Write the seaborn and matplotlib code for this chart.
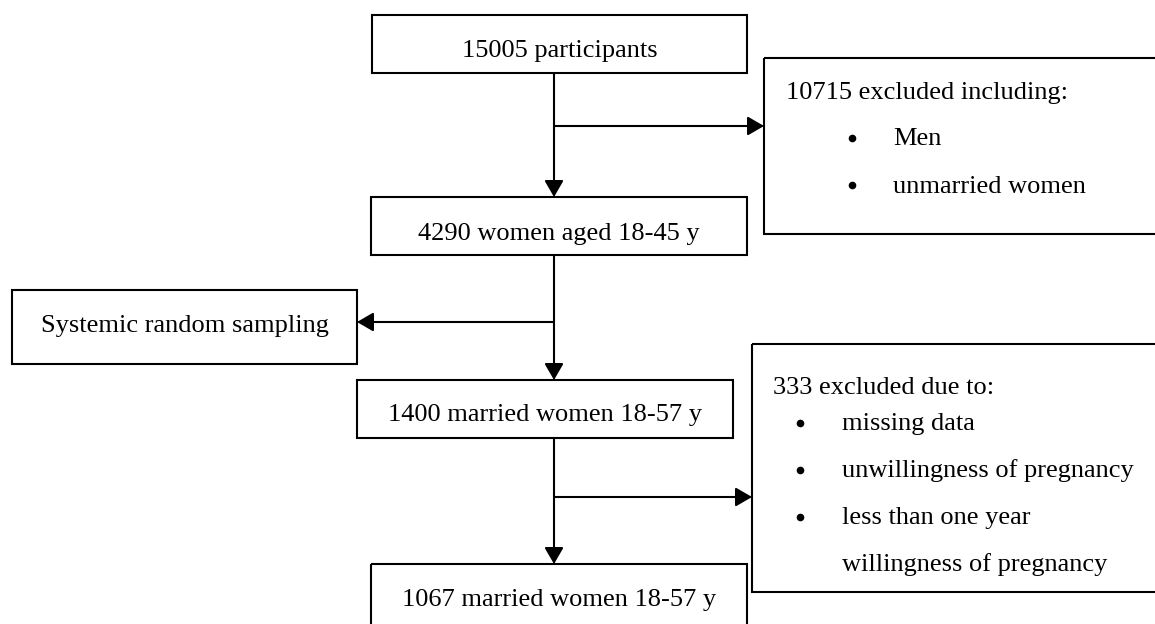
import matplotlib
matplotlib.use("Agg")
import matplotlib.pyplot as plt
import seaborn as sns
from matplotlib.patches import Rectangle

# Flow chart content
main_steps = ["15005 participants", "4290 women aged 18-45 y",
              "1400 married women 18-57 y", "1067 married women 18-57 y"]
side_step = "Systemic random sampling"
excl1_title = "10715 excluded including:"
excl1_items = ["Men", "unmarried women"]
excl2_title = "333 excluded due to:"
excl2_items = ["missing data", "unwillingness of pregnancy", "less than one year"]
excl2_cont = "willingness of pregnancy"

# Layout (pixels, y downward)
main_boxes = [(372, 15, 747, 73), (371, 197, 747, 255),
              (357, 380, 733, 438), (371, 564, 747, 650)]
main_baselines = [57, 240, 421, 606]
side_box = (12, 290, 357, 364)
side_baseline = 332
excl_boxes = [(764, 58, 1170, 234), (752, 344, 1170, 592)]
spine_x = 554

sns.set_style("white")
plt.rcParams["font.family"] = ["Liberation Serif", "DejaVu Serif"]
plt.rcParams["text.color"] = "black"

fig = plt.figure(figsize=(11.55, 6.24), dpi=100)
ax = fig.add_axes([0, 0, 1, 1])
ax.set_xlim(0, 1155)
ax.set_ylim(624, 0)
ax.axis("off")

LW = 1.5
FS = 19


def box(b):
    x0, y0, x1, y1 = b
    ax.add_patch(Rectangle((x0, y0), x1 - x0, y1 - y0, fill=False,
                           edgecolor="black", lw=LW, clip_on=False))


def arrow(start, tip):
    ax.annotate("", xy=tip, xytext=start,
                arrowprops=dict(arrowstyle="-|>,head_length=1.0,head_width=0.58",
                                mutation_scale=10, lw=LW, color="black",
                                shrinkA=0, shrinkB=0))


def bullet(x, y):
    ax.plot([x], [y], marker="o", color="black", markersize=5.5, markeredgewidth=0)


for label, b, base in zip(main_steps, main_boxes, main_baselines):
    box(b)
    ax.text((b[0] + b[2]) / 2, base, label, ha="center", va="baseline", fontsize=FS)

box(side_box)
ax.text((side_box[0] + side_box[2]) / 2, side_baseline, side_step,
        ha="center", va="baseline", fontsize=FS)

for b in excl_boxes:
    box(b)

# vertical arrows between main boxes
for upper, lower in zip(main_boxes[:-1], main_boxes[1:]):
    ax.plot([spine_x, spine_x], [upper[3], lower[1] - 10], color="black", lw=LW)
    arrow((spine_x, lower[1] - 14), (spine_x, lower[1]))

# side branches
arrow((spine_x, 126), (excl_boxes[0][0], 126))
arrow((spine_x, 322), (side_box[2], 322))
arrow((spine_x, 497), (excl_boxes[1][0], 497))

# exclusion box 1 text
ax.text(786, 99, excl1_title, ha="left", va="baseline", fontsize=FS)
for y, base, item in zip([138, 185], [145, 193], excl1_items):
    bullet(852, y)
    ax.text(893, base, item, ha="left", va="baseline", fontsize=FS)

# exclusion box 2 text
ax.text(773, 394, excl2_title, ha="left", va="baseline", fontsize=FS)
for y, base, item in zip([423, 470, 517], [430, 477, 524], excl2_items):
    bullet(800, y)
    ax.text(842, base, item, ha="left", va="baseline", fontsize=FS)
ax.text(842, 571, excl2_cont, ha="left", va="baseline", fontsize=FS)

fig.savefig("out.png", dpi=100, facecolor="white")
